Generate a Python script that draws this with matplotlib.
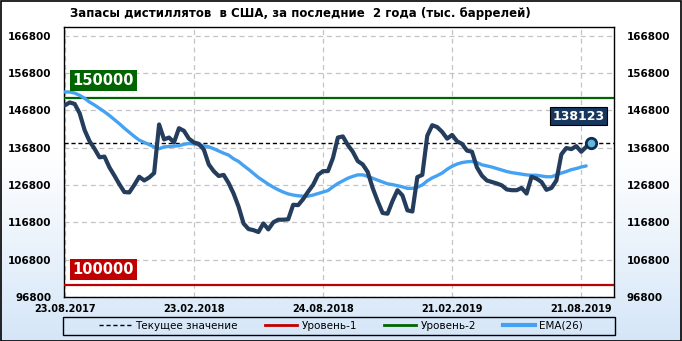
import numpy as np
import matplotlib
matplotlib.use("Agg")
import matplotlib.pyplot as plt
from matplotlib.patches import Rectangle
from matplotlib.lines import Line2D
from matplotlib.colors import LinearSegmentedColormap

# ---------------- data ----------------
title = "Запасы дистиллятов  в США, за последние  2 года (тыс. баррелей)"
tick_labels = ["23.08.2017", "23.02.2018", "24.08.2018", "21.02.2019", "21.08.2019"]
tick_index = [0, 26, 52, 78, 104]
y_ticks = [96800, 106800, 116800, 126800, 136800, 146800, 156800, 166800]

stocks = [148100, 148900, 148500, 146000, 141500, 138500, 136500, 134200, 134400, 131500,
          129300, 127000, 124900, 124800, 126800, 129000, 128000, 128800, 130000, 143000,
          139000, 139500, 138200, 142000, 141300, 139200, 138200, 137800, 136300, 132300,
          130500, 129200, 129500, 127300, 124500, 121000, 116500, 115000, 114700, 114200,
          116500, 114900, 116800, 117500, 117500, 117600, 121500, 121400, 123000, 125000,
          126800, 129500, 130500, 130500, 134000, 139500, 139800, 137500, 135700, 133200,
          132300, 130300, 126000, 122500, 119300, 119100, 122500, 125400, 124000, 120000,
          119700, 128900, 129500, 140000, 142800, 142300, 141000, 139200, 140200, 138500,
          137800, 136000, 135700, 131500, 129300, 128000, 127600, 127200, 126700, 125600,
          125400, 125400, 126000, 124500, 129000, 128500, 127600, 125500, 126000, 128000,
          135000, 136700, 136400, 137200, 135700, 137000, 138123]
# shift so that index 99 is the jump (list above already aligned to 106 points)
ema26 = [151700, 151700, 151400, 150800, 150000, 149000, 148200, 147300, 146400, 145400,
         144300, 143200, 142000, 140900, 139800, 138800, 138200, 137600, 137000, 136500,
         137000, 137100, 137200, 137300, 137700, 137900, 137800, 137500, 137300, 137000,
         136500, 135900, 135300, 134800, 133800, 133100, 132000, 131000, 129900, 128800,
         127900, 127000, 126200, 125500, 124900, 124400, 124100, 123900, 123800, 123800,
         124100, 124500, 124900, 125300, 126300, 127200, 127900, 128600, 129100, 129500,
         129500, 129100, 128600, 128100, 127600, 127100, 126900, 126600, 126300, 125900,
         125900, 126200, 126800, 127900, 128700, 129300, 130000, 131000, 131800, 132400,
         132800, 133000, 133100, 132800, 132200, 131900, 131600, 131200, 130800, 130400,
         130100, 129900, 129700, 129500, 129400, 129400, 129200, 129000, 129000, 129500,
         130000, 130400, 130900, 131200, 131600, 131900]
current_value = 138123
level_1 = 100000
level_2 = 150000

# ---------------- styling ----------------
dark = "#243d5c"
ema_col = "#45a2f2"
green = "#006400"
red = "#c00000"

W, H = 682, 341
fig = plt.figure(figsize=(W / 100, H / 100), dpi=100)

# background gradient
bg = fig.add_axes([0, 0, 1, 1], zorder=-10)
cmap = LinearSegmentedColormap.from_list("bg", [(0, "#ffffff"), (0.45, "#ffffff"), (1, "#d5e6f8")])
grad = np.linspace(0, 1, 256).reshape(-1, 1)
bg.imshow(grad, aspect="auto", cmap=cmap, extent=[0, 1, 0, 1], origin="upper")
bg.set_xlim(0, 1); bg.set_ylim(0, 1)
bg.axis("off")
fig.patches.append(Rectangle((0.5 / W, 0.5 / H), 1 - 1.5 / W, 1 - 1.5 / H, transform=fig.transFigure,
                             fill=False, ec="black", lw=1.2))

ax = fig.add_axes([64 / W, 1 - 297 / H, (614 - 64) / W, (297 - 27) / H])
ax.set_facecolor("white")
x = np.arange(len(stocks))
xe = np.arange(len(ema26))

ax.set_xlim(-0.15, 110.6)
ax.set_ylim(96800, 169100)
ax.set_yticks(y_ticks)
ax.set_xticks(tick_index)
ax.set_xticklabels(tick_labels)
ax.grid(True, color="#c4c4c4", ls=(0, (4, 3)), lw=0.9)
ax.set_axisbelow(True)
for s in ax.spines.values():
    s.set_color("black"); s.set_linewidth(1)
ax.tick_params(length=0, labelsize=7.5, labelright=True, pad=9)
ax.tick_params(axis="x", pad=5, labelsize=7)
for lab in ax.get_xticklabels() + ax.get_yticklabels():
    lab.set_fontweight("bold")

ax.axhline(current_value, color="black", ls=(0, (3, 2)), lw=1, zorder=3)
ax.axhline(level_2, color=green, lw=1.6, zorder=3)
ax.axhline(level_1, color=red, lw=1.6, zorder=3)

ax.plot(xe, ema26, color=ema_col, lw=2.4, zorder=4, solid_capstyle="round")
ax.plot(x, stocks, color=dark, lw=3.0, zorder=5, solid_joinstyle="round", solid_capstyle="round")
ax.plot(x[-1], stocks[-1], "o", ms=7.5, mfc="#62b9d8", mec="#0f2d55", mew=2, zorder=6)

ax.text(7.8, 154800, f"{level_2}", color="white", fontsize=10.5, fontweight="bold",
        ha="center", va="center", zorder=7,
        bbox=dict(boxstyle="square,pad=0.2", fc=green, ec="none"))
ax.text(7.8, 104100, f"{level_1}", color="white", fontsize=10.5, fontweight="bold",
        ha="center", va="center", zorder=7,
        bbox=dict(boxstyle="square,pad=0.2", fc=red, ec="none"))
ax.text(103.5, 145260, f"{current_value}", color="white", fontsize=9, fontweight="bold",
        ha="center", va="center", zorder=7,
        bbox=dict(boxstyle="square,pad=0.2", fc="#17375e", ec="black", lw=0.8))

fig.text(70 / W, 1 - 13 / H, title, fontsize=8.5, fontweight="bold", ha="left", va="center")

# legend
fig.patches.append(Rectangle((63 / W, 1 - 335 / H), (615 - 63) / W, 18 / H, transform=fig.transFigure,
                             fill=False, ec="black", lw=1))
handles = [Line2D([], [], color="black", ls=(0, (3, 2)), lw=1),
           Line2D([], [], color=red, lw=2),
           Line2D([], [], color=green, lw=2),
           Line2D([], [], color=ema_col, lw=3)]
labels = ["Текущее значение", "Уровень-1", "Уровень-2", "EMA(26)"]
fig.legend(handles, labels, loc="center", bbox_to_anchor=(341 / W, 1 - 326 / H), ncol=4,
           frameon=False, fontsize=7.5, handlelength=3.1, handletextpad=0.4, columnspacing=2.6)

fig.savefig("out.png", dpi=100)
